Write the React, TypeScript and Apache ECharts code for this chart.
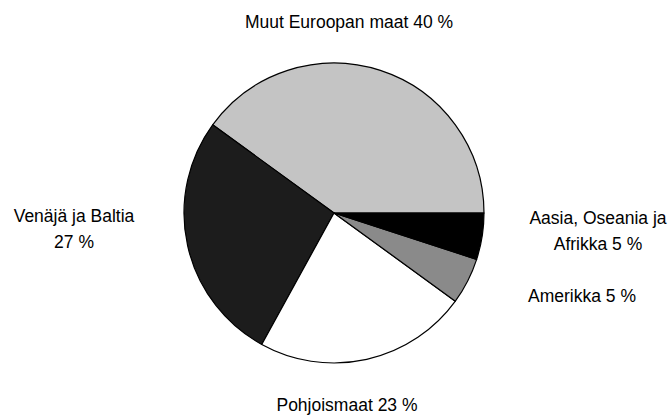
import React, { useEffect, useRef } from "react";
import * as echarts from "echarts";

const categories = [
  "Muut Euroopan maat",
  "Venäjä ja Baltia",
  "Pohjoismaat",
  "Amerikka",
  "Aasia, Oseania ja Afrikka",
];
const shares = [40, 27, 23, 5, 5];
const sliceColors = ["#c4c4c4", "#1c1c1c", "#ffffff", "#8a8a8a", "#000000"];

export default function App() {
  const ref = useRef<HTMLDivElement>(null);
  useEffect(() => {
    if (!ref.current) return;
    const chart = echarts.init(ref.current, null, { renderer: "svg" });
    const labelText = (name: string, value: number) => {
      if (name === "Venäjä ja Baltia") return `${name}\n${value} %`;
      if (name === "Aasia, Oseania ja Afrikka") return `Aasia, Oseania ja\nAfrikka ${value} %`;
      return `${name} ${value} %`;
    };
    const labelPos = [
      [349, 22],
      [74, 229],
      [347, 405],
      [582, 296],
      [598, 231],
    ];
    chart.setOption({
      animation: false,
      backgroundColor: "#ffffff",
      series: [
        {
          type: "pie",
          center: [334, 213],
          radius: 150,
          startAngle: 0,
          clockwise: false,
          avoidLabelOverlap: false,
          data: categories.map((c, i) => ({
            name: c,
            value: shares[i],
            itemStyle: { color: sliceColors[i] },
          })),
          itemStyle: { borderColor: "#000000", borderWidth: 1.2 },
          label: {
            show: true,
            position: "outside",
            formatter: (p: any) => labelText(p.name, p.value),
            fontFamily: "'Liberation Sans', Arial, sans-serif",
            fontSize: 17.5,
            lineHeight: 26,
            color: "#000000",
            align: "center",
          },
          labelLine: { show: false },
          labelLayout: (params: any) => {
            const pos = labelPos[params.dataIndex];
            return { x: pos[0], y: pos[1], align: "center", verticalAlign: "middle" };
          },
          emphasis: { disabled: true },
        },
      ],
    });
    return () => chart.dispose();
  }, []);
  return (
    <div
      ref={ref}
      style={{ position: "fixed", left: 0, top: 0, width: 668, height: 418, background: "#fff" }}
    />
  );
}
